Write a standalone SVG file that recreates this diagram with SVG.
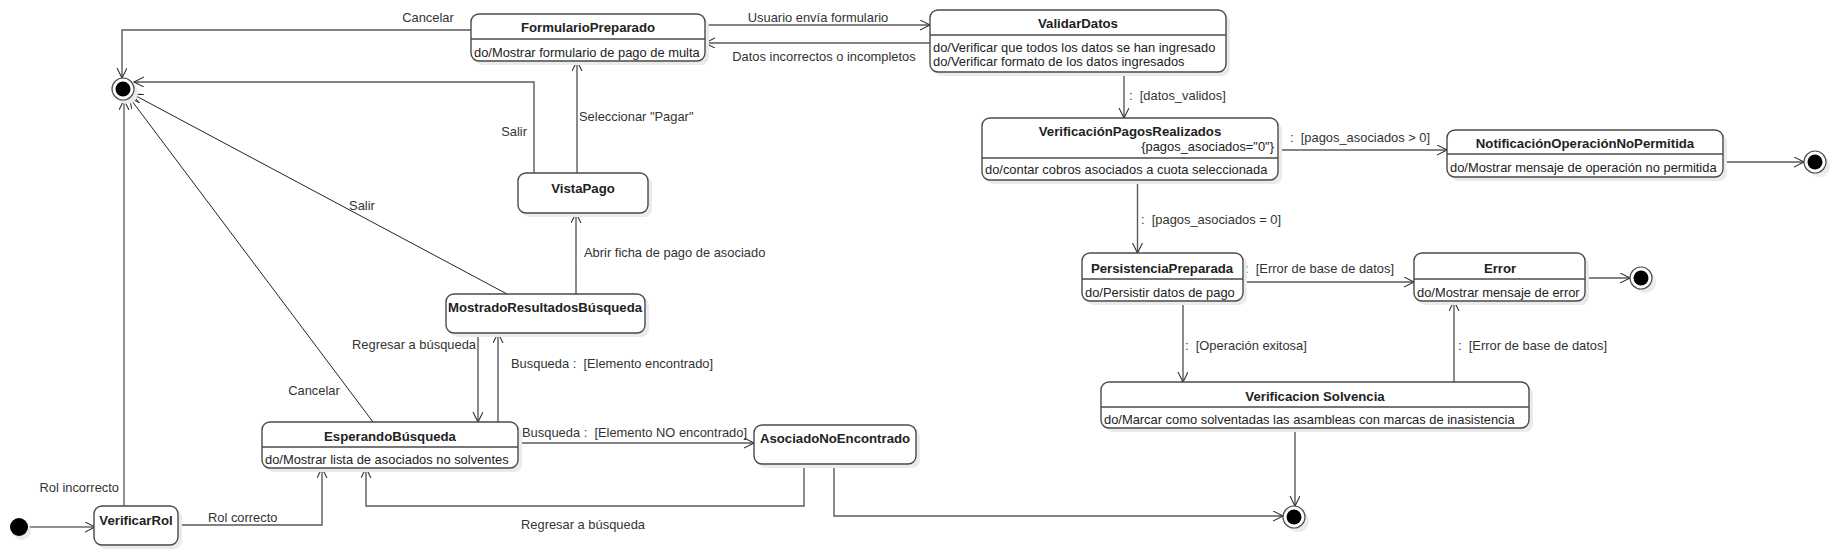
<svg xmlns="http://www.w3.org/2000/svg" width="1837" height="555" viewBox="0 0 1837 555">
<style>
.sh{fill:#ebebeb;stroke:none}
.box{fill:#fff;stroke:#4a4a4a;stroke-width:1.4}
.div{stroke:#4a4a4a;stroke-width:1.4}
.t{font-family:"Liberation Sans",Arial,sans-serif;font-size:12.9px;fill:#222}
.b{font-family:"Liberation Sans",Arial,sans-serif;font-size:13.2px;font-weight:bold;fill:#222;text-anchor:middle}
.c{fill:none;stroke:#5a5a5a;stroke-width:1.4}
.d{fill:none;stroke:#222;stroke-width:1}
.lbl{font-family:"Liberation Sans",Arial,sans-serif;font-size:12.9px;fill:#333}
.fo{fill:#fff;stroke:#505050;stroke-width:1.2}
</style>
<defs>
<marker id="a" markerWidth="12" markerHeight="12" refX="10" refY="5" orient="auto" markerUnits="userSpaceOnUse">
<path d="M0,0 L10,5 L0,10" fill="none" stroke="#333" stroke-width="1.1"/>
</marker>
</defs>
<rect width="1837" height="555" fill="#fff"/>

<g id="connectors">
<path class="c" d="M471,30 H122 V78" marker-end="url(#a)"/>
<text class="lbl" x="428" y="22" text-anchor="middle">Cancelar</text>
<path class="c" d="M705,25 H930" marker-end="url(#a)"/>
<text class="lbl" x="818" y="22" text-anchor="middle">Usuario envía formulario</text>
<path class="c" d="M930,43 H705" marker-end="url(#a)"/>
<text class="lbl" x="824" y="61" text-anchor="middle">Datos incorrectos o incompletos</text>
<path class="c" d="M1124,72 V118" marker-end="url(#a)"/>
<text class="lbl" x="1129" y="100" xml:space="preserve">:  [datos_validos]</text>
<path class="c" d="M1278,150 H1447" marker-end="url(#a)"/>
<text class="lbl" x="1290" y="142" xml:space="preserve">:  [pagos_asociados &gt; 0]</text>
<path class="c" d="M1723,162 H1804" marker-end="url(#a)"/>
<path class="c" d="M1137.5,180 V253" marker-end="url(#a)"/>
<text class="lbl" x="1141" y="224" xml:space="preserve">:  [pagos_asociados = 0]</text>
<path class="c" d="M1243,282 H1414" marker-end="url(#a)"/>
<text class="lbl" x="1245" y="273" xml:space="preserve">:  [Error de base de datos]</text>
<path class="c" d="M1585,278 H1630" marker-end="url(#a)"/>
<path class="c" d="M1183,301 V382" marker-end="url(#a)"/>
<text class="lbl" x="1185" y="350" xml:space="preserve">:  [Operación exitosa]</text>
<path class="c" d="M1454,382 V301" marker-end="url(#a)"/>
<text class="lbl" x="1458" y="350" xml:space="preserve">:  [Error de base de datos]</text>
<path class="c" d="M1295,428 V506" marker-end="url(#a)"/>
<path class="c" d="M834,464 V516 H1283" marker-end="url(#a)"/>
<path class="c" d="M804,464 V506 H366 V468" marker-end="url(#a)"/>
<text class="lbl" x="583" y="529" text-anchor="middle">Regresar a búsqueda</text>
<path class="c" d="M518,443 H754" marker-end="url(#a)"/>
<text class="lbl" x="522" y="437" xml:space="preserve">Busqueda :  [Elemento NO encontrado]</text>
<path class="c" d="M178,525 H322 V468" marker-end="url(#a)"/>
<text class="lbl" x="208" y="522">Rol correcto</text>
<path class="d" d="M124,506 V100" marker-end="url(#a)"/>
<text class="lbl" x="119" y="492" text-anchor="end">Rol incorrecto</text>
<path class="d" d="M27,527 H95" marker-end="url(#a)"/>
<path class="d" d="M373,422 L129.6,97.8" marker-end="url(#a)"/>
<text class="lbl" x="314" y="395" text-anchor="middle">Cancelar</text>
<path class="d" d="M507,294 L132.7,94.2" marker-end="url(#a)"/>
<text class="lbl" x="362" y="210" text-anchor="middle">Salir</text>
<path class="c" d="M534,173 V82 H134" marker-end="url(#a)"/>
<text class="lbl" x="527" y="136" text-anchor="end">Salir</text>
<path class="c" d="M577,173 V61" marker-end="url(#a)"/>
<text class="lbl" x="579" y="121">Seleccionar "Pagar"</text>
<path class="c" d="M576,294 V213" marker-end="url(#a)"/>
<text class="lbl" x="584" y="257">Abrir ficha de pago de asociado</text>
<path class="c" d="M478,333 V422" marker-end="url(#a)"/>
<text class="lbl" x="476" y="349" text-anchor="end">Regresar a búsqueda</text>
<path class="c" d="M498,422 V333" marker-end="url(#a)"/>
<text class="lbl" x="511" y="368" xml:space="preserve">Busqueda :  [Elemento encontrado]</text>
</g>

<g id="FormularioPreparado">
<rect class="sh" x="475" y="18" width="234" height="47" rx="8"/>
<rect class="box" x="471" y="14" width="234" height="47" rx="8"/>
<line class="div" x1="471" y1="39" x2="705" y2="39"/>
<text class="b" x="588" y="31.5">FormularioPreparado</text>
<text class="t" x="474" y="56.5">do/Mostrar formulario de pago de multa</text>
</g>

<g id="ValidarDatos">
<rect class="sh" x="934" y="14" width="296" height="62" rx="8"/>
<rect class="box" x="930" y="10" width="296" height="62" rx="8"/>
<line class="div" x1="930" y1="35" x2="1226" y2="35"/>
<text class="b" x="1078" y="28">ValidarDatos</text>
<text class="t" x="933" y="51.5">do/Verificar que todos los datos se han ingresado</text>
<text class="t" x="933" y="66">do/Verificar formato de los datos ingresados</text>
</g>

<g id="VerificacionPagosRealizados">
<rect class="sh" x="986" y="122" width="296" height="62" rx="8"/>
<rect class="box" x="982" y="118" width="296" height="62" rx="8"/>
<line class="div" x1="982" y1="158" x2="1278" y2="158"/>
<text class="b" x="1130" y="136">VerificaciónPagosRealizados</text>
<text class="t" x="1274" y="151" text-anchor="end">{pagos_asociados="0"}</text>
<text class="t" x="985" y="174">do/contar cobros asociados a cuota seleccionada</text>
</g>

<g id="NotificacionOperacionNoPermitida">
<rect class="sh" x="1451" y="134" width="276" height="47" rx="8"/>
<rect class="box" x="1447" y="130" width="276" height="47" rx="8"/>
<line class="div" x1="1447" y1="154" x2="1723" y2="154"/>
<text class="b" x="1585" y="147.5">NotificaciónOperaciónNoPermitida</text>
<text class="t" x="1450" y="171.5">do/Mostrar mensaje de operación no permitida</text>
</g>

<g id="PersistenciaPreparada">
<rect class="sh" x="1086" y="257" width="161" height="48" rx="8"/>
<rect class="box" x="1082" y="253" width="161" height="48" rx="8"/>
<line class="div" x1="1082" y1="279" x2="1243" y2="279"/>
<text class="b" x="1162" y="272.5">PersistenciaPreparada</text>
<text class="t" x="1085" y="296.5">do/Persistir datos de pago</text>
</g>

<g id="Error">
<rect class="sh" x="1418" y="257" width="171" height="48" rx="8"/>
<rect class="box" x="1414" y="253" width="171" height="48" rx="8"/>
<line class="div" x1="1414" y1="279" x2="1585" y2="279"/>
<text class="b" x="1500" y="272.5">Error</text>
<text class="t" x="1417" y="296.5">do/Mostrar mensaje de error</text>
</g>

<g id="VerificacionSolvencia">
<rect class="sh" x="1105" y="386" width="428" height="46" rx="8"/>
<rect class="box" x="1101" y="382" width="428" height="46" rx="8"/>
<line class="div" x1="1101" y1="407" x2="1529" y2="407"/>
<text class="b" x="1315" y="400.5">Verificacion Solvencia</text>
<text class="t" x="1104" y="424">do/Marcar como solventadas las asambleas con marcas de inasistencia</text>
</g>

<g id="AsociadoNoEncontrado">
<rect class="sh" x="758" y="429" width="162" height="39" rx="8"/>
<rect class="box" x="754" y="425" width="162" height="39" rx="8"/>
<text class="b" x="835" y="442.5">AsociadoNoEncontrado</text>
</g>

<g id="EsperandoBusqueda">
<rect class="sh" x="266" y="426" width="256" height="46" rx="8"/>
<rect class="box" x="262" y="422" width="256" height="46" rx="8"/>
<line class="div" x1="262" y1="447" x2="518" y2="447"/>
<text class="b" x="390" y="440.5">EsperandoBúsqueda</text>
<text class="t" x="265" y="463.5">do/Mostrar lista de asociados no solventes</text>
</g>

<g id="MostradoResultadosBusqueda">
<rect class="sh" x="450" y="298" width="199" height="39" rx="8"/>
<rect class="box" x="446" y="294" width="199" height="39" rx="8"/>
<text class="b" x="545" y="311.5">MostradoResultadosBúsqueda</text>
</g>

<g id="VistaPago">
<rect class="sh" x="522" y="177" width="130" height="40" rx="8"/>
<rect class="box" x="518" y="173" width="130" height="40" rx="8"/>
<text class="b" x="583" y="192.5">VistaPago</text>
</g>

<g id="VerificarRol">
<rect class="sh" x="98" y="510" width="84" height="39" rx="8"/>
<rect class="box" x="94" y="506" width="84" height="39" rx="8"/>
<text class="b" x="136" y="524.5">VerificarRol</text>
</g>

<g id="Inicio">
<circle cx="22" cy="531" r="9" class="sh"/>
<circle cx="19" cy="527" r="9" fill="#000"/>
</g>

<g id="Final1">
<circle cx="127" cy="93" r="11" class="sh"/>
<circle cx="123" cy="89" r="11" class="fo"/>
<circle cx="123" cy="89" r="7.5" fill="#000"/>
</g>
<g id="Final2">
<circle cx="1819" cy="166" r="11" class="sh"/>
<circle cx="1815" cy="162" r="11" class="fo"/>
<circle cx="1815" cy="162" r="7.5" fill="#000"/>
</g>
<g id="Final3">
<circle cx="1645" cy="282" r="11" class="sh"/>
<circle cx="1641" cy="278" r="11" class="fo"/>
<circle cx="1641" cy="278" r="7.5" fill="#000"/>
</g>
<g id="Final4">
<circle cx="1298" cy="521" r="11" class="sh"/>
<circle cx="1294" cy="517" r="11" class="fo"/>
<circle cx="1294" cy="517" r="7.5" fill="#000"/>
</g>
</svg>
